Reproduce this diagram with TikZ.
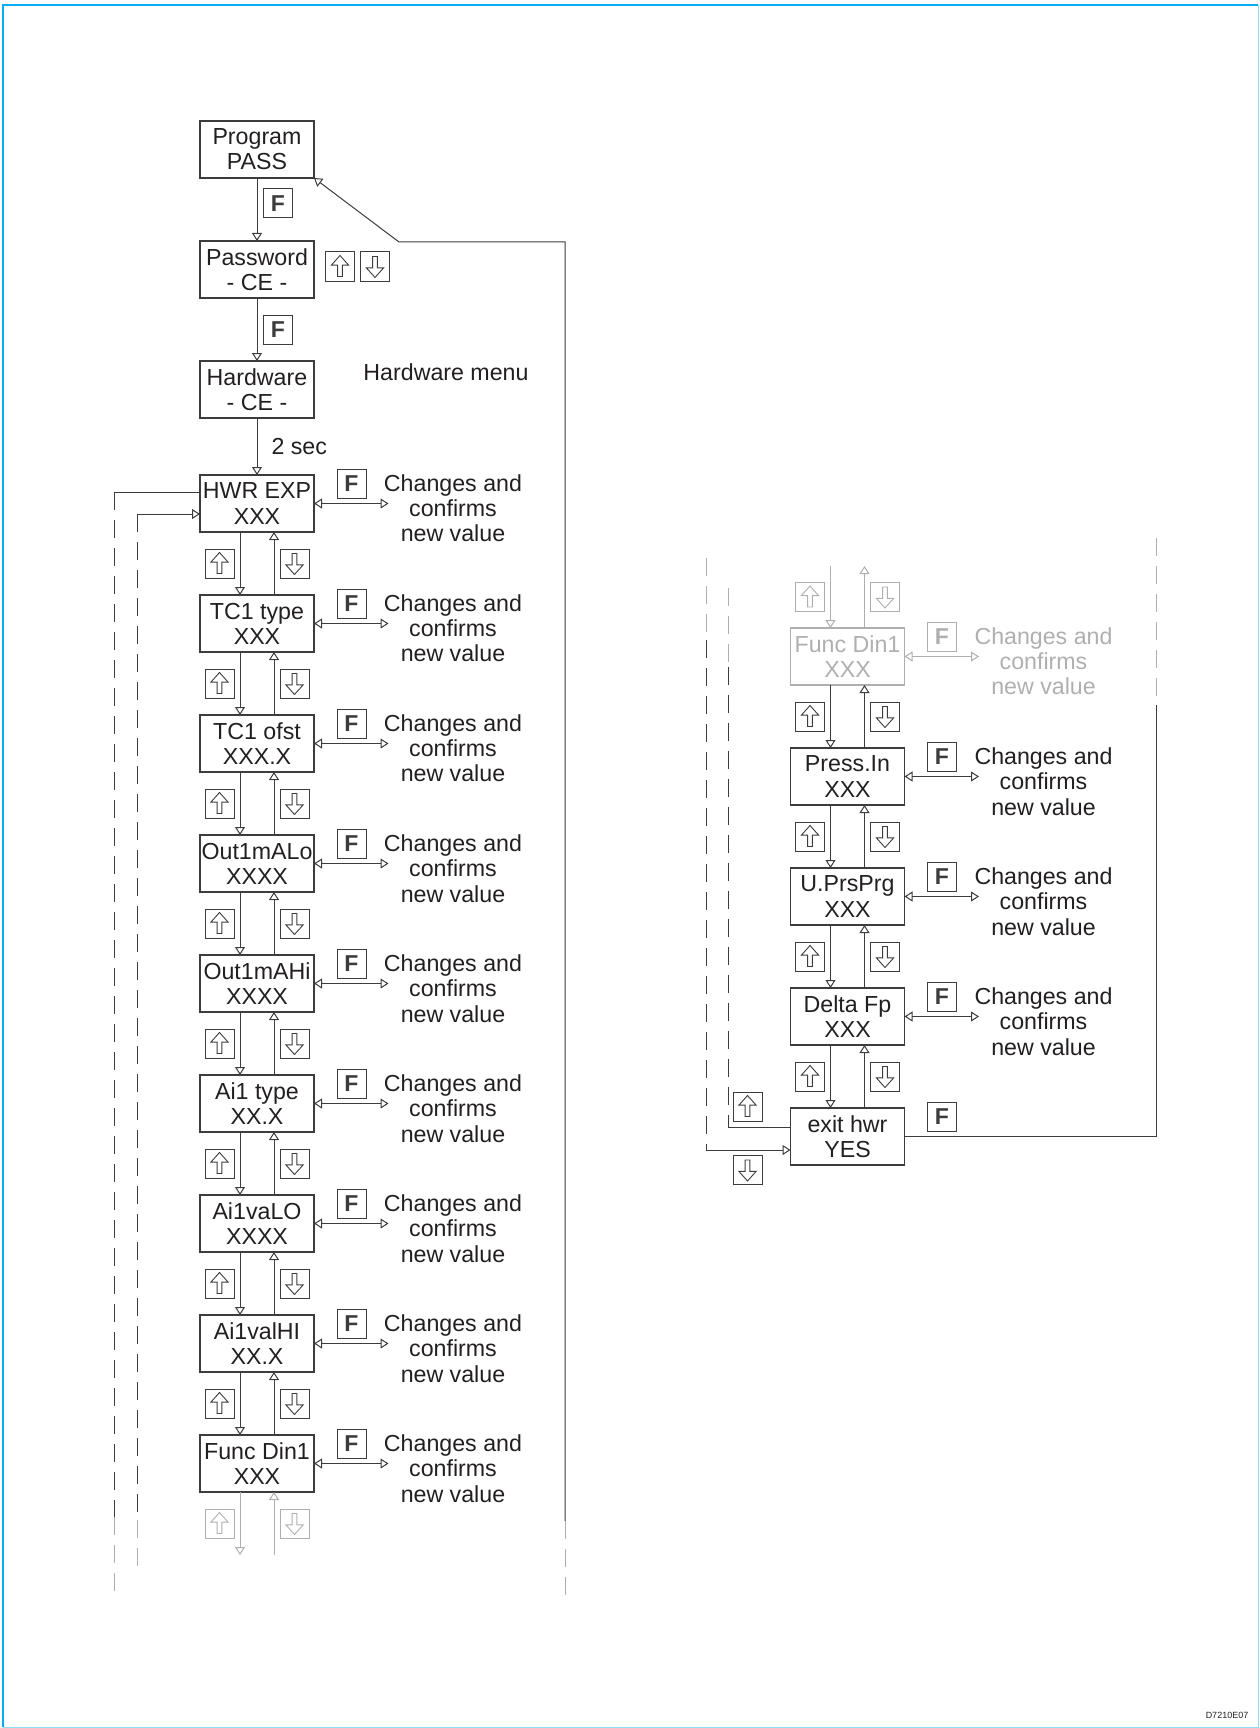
\documentclass[tikz,border=0pt]{standalone}
\usepackage{fontspec}
\setmainfont{Liberation Sans}
\usepackage{xcolor}
\definecolor{linec}{RGB}{60,60,60}
\definecolor{txtc}{RGB}{35,31,32}
\definecolor{fadec}{RGB}{175,175,175}
\definecolor{framec}{RGB}{0,174,239}
\usetikzlibrary{arrows.meta,positioning,calc}
\newcommand{\boxfont}{\fontsize{11.6pt}{12.6pt}\selectfont}
\newcommand{\keyfont}{\fontsize{11.5pt}{12pt}\selectfont\bfseries}
\tikzset{
  menubox/.style={draw=linec,line width=0.6pt,text=txtc,font=\boxfont,align=center,%
    minimum width=57pt,minimum height=28.5pt,inner sep=0pt,outer sep=0pt},
  faded/.style={draw=fadec,text=fadec},
  note/.style={text=txtc,font=\boxfont,align=center,inner sep=0pt},
  key/.style={draw=#1,line width=0.5pt,minimum size=14.5pt,inner sep=0pt},
  key/.default=linec,
  fkey/.style={key=#1,text=#1,font=\keyfont},
  fkey/.default=linec,
  upkey/.style={key=#1,path picture={\draw[#1,line width=0.45pt,%
    shift={(path picture bounding box.center)}]
    (0pt,5.5pt) -- (4.3pt,0.7pt) -- (1.2pt,0.7pt) -- (1.2pt,-5pt)
    -- (-1.2pt,-5pt) -- (-1.2pt,0.7pt) -- (-4.3pt,0.7pt) -- cycle;}},
  upkey/.default=linec,
  downkey/.style={key=#1,path picture={\draw[#1,line width=0.45pt,%
    shift={(path picture bounding box.center)}]
    (0pt,-5.5pt) -- (4.3pt,-0.7pt) -- (1.2pt,-0.7pt) -- (1.2pt,5pt)
    -- (-1.2pt,5pt) -- (-1.2pt,-0.7pt) -- (-4.3pt,-0.7pt) -- cycle;}},
  downkey/.default=linec,
  flow/.style={-{Triangle[open,length=4pt,width=5pt]},line width=0.5pt,draw=linec},
  both/.style={{Triangle[open,length=4pt,width=5pt]}-{Triangle[open,length=4pt,width=5pt]},%
    line width=0.5pt,draw=linec},
  loopline/.style={line width=0.5pt,draw=linec},
  dashline/.style={line width=0.5pt,draw=linec,dash pattern=on 9pt off 5pt},
}
\begin{document}
\begin{tikzpicture}[x=0.5pt,y=-0.5pt,node distance=31.5pt]
\useasboundingbox (0,0) rectangle (1259,1728);
% frame
\draw[framec,line width=1pt] (3,1727) -- (3,5) -- (1258,5);
\draw[framec!45,line width=0.5pt] (1258,5) -- (1258,1727) -- (3,1727);
\node[font=\fontsize{4.5pt}{5pt}\selectfont,text=txtc] (code) at (1227,1715) {D7210E07};

% entry
\node[menubox] (prog) at (257,149.5) {Program\\PASS};
\node[menubox,below=of prog] (pass) {Password\\- CE -};
\node[menubox,below=of pass] (hard) {Hardware\\- CE -};
\node[menubox,below=28.5pt of hard] (hwr) {HWR EXP\\XXX};
\draw[flow] (prog) -- node[fkey,right=3pt,pos=.4] (f1) {F} (pass);
\draw[flow] (pass) -- node[fkey,right=3pt] (f2) {F} (hard);
\draw[flow] (hard) -- node[note,right=7pt] (tsec) {2 sec} (hwr);
\node[upkey,right=5.5pt of pass,yshift=1.5pt] (pu) {};
\node[downkey,right=2.5pt of pu] (pd) {};
\node[note] (hmenu) at (446,372) {Hardware menu};

% left column
\node[menubox,below=of hwr]  (tct)  {TC1 type\\XXX};
\node[menubox,below=of tct]  (tco)  {TC1 ofst\\XXX.X};
\node[menubox,below=of tco]  (oalo) {Out1mALo\\XXXX};
\node[menubox,below=of oalo] (oahi) {Out1mAHi\\XXXX};
\node[menubox,below=of oahi] (ait)  {Ai1 type\\XX.X};
\node[menubox,below=of ait]  (ailo) {Ai1vaLO\\XXXX};
\node[menubox,below=of ailo] (aihi) {Ai1valHI\\XX.X};
\node[menubox,below=of aihi] (ldin) {Func Din1\\XXX};

% right column
\node[menubox,faded] (rdin) at (847.5,656.5) {Func Din1\\XXX};
\node[menubox,below=of rdin] (rpin) {Press.In\\XXX};
\node[menubox,below=of rpin] (rprg) {U.PrsPrg\\XXX};
\node[menubox,below=of rprg] (rdfp) {Delta Fp\\XXX};
\node[menubox,below=of rdfp] (exit) {exit hwr\\YES};

% up / down steps
\foreach \a/\b in {hwr/tct,tct/tco,tco/oalo,oalo/oahi,oahi/ait,ait/ailo,ailo/aihi,aihi/ldin,%
    rdin/rpin,rpin/rprg,rprg/rdfp,rdfp/exit}{
  \draw[flow] ([xshift=-8.5pt]\a.south) -- ([xshift=-8.5pt]\b.north);
  \draw[flow] ([xshift=8.5pt]\b.north) -- ([xshift=8.5pt]\a.south);
  \node[upkey] (\a-u) at ($(\a.south)!.5!(\b.north)+(-37.5,0)$) {};
  \node[downkey] (\a-d) at ($(\a.south)!.5!(\b.north)+(37.5,0)$) {};
}

% F changes value
\foreach \b in {hwr,tct,tco,oalo,oahi,ait,ailo,aihi,ldin,rpin,rprg,rdfp}{
  \node[fkey] (\b-f) at ($(\b.center)+(94.5,-19.5)$) {F};
  \coordinate (\b-e) at ($(\b.east)+(74.5,0)$);
  \draw[both] (\b.east) -- (\b-e);
  \node[note] (\b-t) at ($(\b.center)+(196,5)$) {Changes and\\confirms\\new value};
}

% faded continuation
\coordinate (lbot) at ($(ldin.south)+(0,63)$);
\draw[flow,fadec] ([xshift=-8.5pt]ldin.south) -- ([xshift=-8.5pt]lbot);
\draw[flow,fadec] ([xshift=8.5pt]lbot) -- ([xshift=8.5pt]ldin.south);
\node[upkey=fadec] (lbu) at ($(ldin.south)!.5!(lbot)+(-37.5,0)$) {};
\node[downkey=fadec] (lbd) at ($(ldin.south)!.5!(lbot)+(37.5,0)$) {};
\coordinate (rtop) at ($(rdin.north)+(0,-62)$);
\draw[flow,fadec] ([xshift=-8.5pt]rtop) -- ([xshift=-8.5pt]rdin.north);
\draw[flow,fadec] ([xshift=8.5pt]rdin.north) -- ([xshift=8.5pt]rtop);
\node[upkey=fadec] (rtu) at ($(rtop)!.5!(rdin.north)+(-37.5,0)$) {};
\node[downkey=fadec] (rtd) at ($(rtop)!.5!(rdin.north)+(37.5,0)$) {};
\node[fkey=fadec] (rdin-f) at ($(rdin.center)+(94.5,-19.5)$) {F};
\coordinate (rdin-e) at ($(rdin.east)+(74.5,0)$);
\draw[both,fadec] (rdin.east) -- (rdin-e);
\node[note,text=fadec] (rdin-t) at ($(rdin.center)+(196,5)$) {Changes and\\confirms\\new value};

% exit
\node[upkey] (xu) at ($(exit.center)+(-100,-30)$) {};
\node[downkey] (xd) at ($(exit.center)+(-100,33.5)$) {};
\node[fkey] (xf) at ($(exit.center)+(94.5,-19.5)$) {F};

% back to Program
\coordinate (ltop) at (565,242);
\coordinate (lbend) at (399,242);
\coordinate (lend) at (565,1521);
\coordinate (lfade) at (565,1600);
\draw[flow] (lend) -- (ltop) -- (lbend) -- (prog.south east);
\draw[dashline,fadec] (lend) -- (lfade);
\coordinate (rr1) at (1156,538);
\coordinate (rr2) at (1156,697);
\coordinate (rr3) at (1156,705);
\draw[dashline,fadec] (rr1) -- (rr2);
\draw[loopline] (exit.east) -- (exit.east -| rr3) -- (rr3);

% wrap round lines
\coordinate (lo1) at (114,492);
\coordinate (lo2) at (114,1517);
\coordinate (lo3) at (114,1598);
\draw[loopline] (hwr.west |- lo1) -- (lo1);
\draw[dashline] (lo1) -- (lo2);
\draw[dashline,fadec] (lo2) -- (lo3);
\coordinate (li1) at (137,514);
\coordinate (li2) at (137,1520);
\coordinate (li3) at (137,1573);
\draw[flow] (li1) -- (hwr.west |- li1);
\draw[dashline] (li1) -- (li2);
\draw[dashline,fadec] (li2) -- (li3);
\coordinate (ro1) at (706,558);
\coordinate (ro2) at (706,640);
\coordinate (ro3) at (706,1150);
\draw[dashline,fadec] (ro1) -- (ro2);
\draw[dashline] (ro2) -- (ro3);
\draw[flow] (ro3) -- (exit.west |- ro3);
\coordinate (ri1) at (728,588);
\coordinate (ri2) at (728,667);
\coordinate (ri3) at (728,1127);
\draw[dashline,fadec] (ri1) -- (ri2);
\draw[dashline] (ri2) -- (ri3);
\draw[loopline] (ri3) -- (exit.west |- ri3);
\end{tikzpicture}
\end{document}
